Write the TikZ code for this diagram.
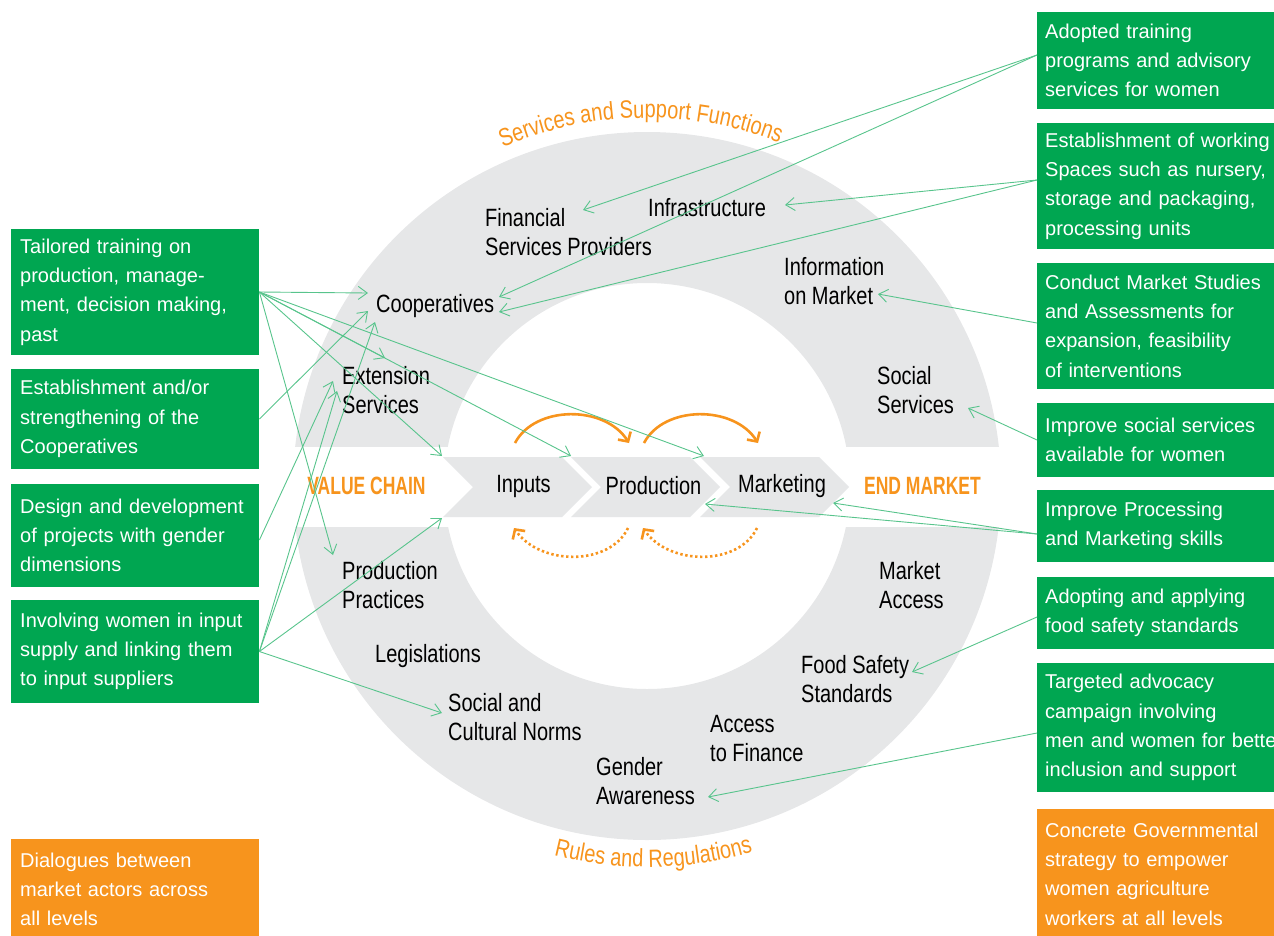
\documentclass[tikz,border=0pt]{standalone}
\usepackage{fontspec}
\setmainfont{Liberation Sans}
\newfontfamily\condfont{Liberation Sans}[FakeStretch=0.8]
\newfontfamily\condbf{Liberation Sans}[FakeStretch=0.7]
\usetikzlibrary{arrows.meta,decorations.text}
\definecolor{ringgray}{RGB}{230,231,232}
\definecolor{boxgreen}{RGB}{0,166,81}
\definecolor{vcorange}{RGB}{247,148,29}
\definecolor{linkgreen}{RGB}{88,196,140}
\newcommand\boxfnt{\fontsize{20}{29.3}\selectfont}
\newcommand\labfnt{\condfont\fontsize{25}{29}\selectfont}
\tikzset{
  lbox/.style={fill=boxgreen, text=white, font=\boxfnt, minimum width=248pt, text width=230pt,
    inner xsep=9pt, inner ysep=0pt, align=left, anchor=west},
  rbox/.style={fill=boxgreen, text=white, font=\boxfnt, minimum width=276pt, text width=260pt,
    inner xsep=8pt, inner ysep=0pt, align=left, anchor=west},
  lab/.style={font=\labfnt, align=left, anchor=west, inner sep=0pt},
  chevlab/.style={font=\labfnt, inner sep=0pt},
  vclab/.style={font=\condbf\bfseries\fontsize{25}{29}\selectfont, text=vcorange, inner sep=0pt},
  chev/.style={fill=ringgray},
  link/.style={draw=linkgreen, line width=0.9pt, -{Straight Barb[length=9pt,width=13pt]}},
  varrow/.style={draw=vcorange, line width=2.6pt, -{Straight Barb[length=7pt,width=15pt]}},
  vdots/.style={draw=vcorange, line width=2.6pt, dash pattern=on 2.4pt off 2.6pt, -{Straight Barb[length=7pt,width=15pt]}}
}
\begin{document}
\begin{tikzpicture}[x=1pt,y=-1pt]
\useasboundingbox (0,0) rectangle (1274,935);
% ring
\fill[ringgray, even odd rule] (647,486) circle[radius=354] (647,486) circle[radius=203];
\fill[white] (280,447) rectangle (1012,527);
% arc labels (y axis points down: angle theta is drawn at visual angle -theta)
\path[decorate, decoration={text along path, text align=center, text color=vcorange,
  text={|\labfnt|Services and Support Functions}}]
  ([shift={(199:368)}]647,486) arc[start angle=199, end angle=339, radius=368];
\path[decorate, decoration={text along path, text align=center, text color=vcorange,
  text={|\labfnt|Rules and Regulations}}]
  ([shift={(159:381)}]647,486) arc[start angle=159, end angle=19, radius=381];
% chevrons
\fill[chev] (443,457) -- (562,457) -- (592,487) -- (562,517) -- (443,517) -- (473,487) -- cycle;
\fill[chev] (571,457) -- (690,457) -- (720,487) -- (690,517) -- (571,517) -- (601,487) -- cycle;
\fill[chev] (700,457) -- (819,457) -- (849,487) -- (819,517) -- (700,517) -- (730,487) -- cycle;
\node[chevlab] (inputs) at (523.5,486) {Inputs};
\node[chevlab] (production) at (653.5,486) {Production};
\node[chevlab] (marketing) at (782,486) {Marketing};
\node[vclab] (vchain) at (366.5,486) {VALUE CHAIN};
\node[vclab] (endmkt) at (922.5,486) {END MARKET};
% value chain loops
\draw[varrow] (515,443) .. controls (535,405) and (605,405) .. (629,443);
\draw[varrow] (644,443) .. controls (664,405) and (734,405) .. (758,443);
\draw[vdots] (628,528) .. controls (610,566) and (540,566) .. (514,528);
\draw[vdots] (757,528) .. controls (739,566) and (669,566) .. (643,528);
% ring labels
\node[lab] (fin) at (485,232.5) {Financial\\Services Providers};
\node[lab] (infra) at (648,208) {Infrastructure};
\node[lab] (info) at (784,281.5) {Information\\on Market};
\node[lab] (coop) at (376,306) {Cooperatives};
\node[lab] (ext) at (342,390.5) {Extension\\Services};
\node[lab] (socs) at (877,390.5) {Social\\Services};
\node[lab] (pp) at (342,585.5) {Production\\Practices};
\node[lab] (ma) at (879,585.5) {Market\\Access};
\node[lab] (leg) at (375,656) {Legislations};
\node[lab] (fss) at (801,679.5) {Food Safety\\Standards};
\node[lab] (scn) at (448,717.5) {Social and\\Cultural Norms};
\node[lab] (atf) at (710,738.5) {Access\\to Finance};
\node[lab] (ga) at (596,781.5) {Gender\\Awareness};
% left boxes
\node[lbox, minimum height=126pt] (tailored) at (11,292) {Tailored training on\\production, manage-\\ment, decision making,\\past};
\node[lbox, minimum height=100pt] (establish) at (11,419) {Establishment and/or\\strengthening of the\\Cooperatives};
\node[lbox, minimum height=103pt] (design) at (11,535.5) {Design and development\\of projects with gender\\dimensions};
\node[lbox, minimum height=103pt] (involving) at (11,651.5) {Involving women in input\\supply and linking them\\to input suppliers};
\node[lbox, fill=vcorange, minimum height=101pt] (dialogues) at (11,889.5) {Dialogues between\\market actors across\\all levels};
% right boxes
\node[rbox, minimum height=97pt] (adopted) at (1037,60.5) {Adopted training\\programs and advisory\\services for women};
\node[rbox, minimum height=126pt] (working) at (1037,186) {Establishment of working\\Spaces such as nursery,\\storage and packaging,\\processing units};
\node[rbox, minimum height=126pt] (conduct) at (1037,326) {Conduct Market Studies\\and Assessments for\\expansion, feasibility\\of interventions};
\node[rbox, minimum height=74pt] (socialb) at (1037,440) {Improve social services\\available for women};
\node[rbox, minimum height=72pt] (processing) at (1037,526) {Improve Processing\\and Marketing skills};
\node[rbox, minimum height=72pt] (adopting) at (1037,613) {Adopting and applying\\food safety standards};
\node[rbox, minimum height=129pt] (targeted) at (1037,727.5) {Targeted advocacy\\campaign involving\\men and women for better\\inclusion and support};
\node[rbox, fill=vcorange, minimum height=130pt] (concrete) at (1037,874) {Concrete Governmental\\strategy to empower\\women agriculture\\workers at all levels};
% connector ends
\coordinate (cA) at (368,293);
\coordinate (cB) at (385,358);
\coordinate (cC) at (442,456);
\coordinate (cD) at (571,456);
\coordinate (cE) at (704,456);
\coordinate (cF) at (333,555);
\coordinate (cG) at (368,311);
\coordinate (cH) at (333,381);
\coordinate (cI) at (337,391);
\coordinate (cJ) at (375,322);
\coordinate (cK) at (442,518);
\coordinate (cL) at (442,713);
\coordinate (cM) at (583,210);
\coordinate (cN) at (499,297);
\coordinate (cO) at (785,205);
\coordinate (cP) at (499,312);
\coordinate (cQ) at (878,294);
\coordinate (cR) at (968,408);
\coordinate (cS) at (705,504);
\coordinate (cT) at (833,503);
\coordinate (cU) at (912,672);
\coordinate (cV) at (708,797);
% connectors left
\draw[link] (tailored.east) -- (cA);
\draw[link] (tailored.east) -- (cB);
\draw[link] (tailored.east) -- (cC);
\draw[link] (tailored.east) -- (cD);
\draw[link] (tailored.east) -- (cE);
\draw[link] (tailored.east) -- (cF);
\draw[link] (establish.east) -- (cG);
\draw[link] ([yshift=-4.5pt]design.east) -- (cH);
\draw[link] (involving.east) -- (cI);
\draw[link] (involving.east) -- (cJ);
\draw[link] (involving.east) -- (cK);
\draw[link] (involving.east) -- (cL);
% connectors right
\draw[link] ([yshift=5.5pt]adopted.west) -- (cM);
\draw[link] ([yshift=5.5pt]adopted.west) -- (cN);
\draw[link] ([yshift=6pt]working.west) -- (cO);
\draw[link] ([yshift=6pt]working.west) -- (cP);
\draw[link] ([yshift=3pt]conduct.west) -- (cQ);
\draw[link] (socialb.west) -- (cR);
\draw[link] ([yshift=-8pt]processing.west) -- (cS);
\draw[link] ([yshift=-8pt]processing.west) -- (cT);
\draw[link] ([yshift=-4pt]adopting.west) -- (cU);
\draw[link] ([yshift=-5.5pt]targeted.west) -- (cV);
\end{tikzpicture}
\end{document}
